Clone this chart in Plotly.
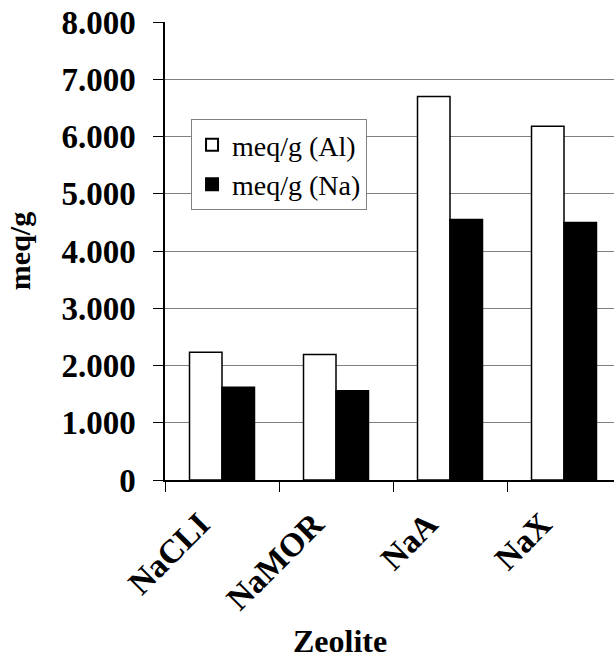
import plotly.graph_objects as go

categories = ["NaCLI", "NaMOR", "NaA", "NaX"]
al_values = [2.23, 2.19, 6.70, 6.18]
na_values = [1.62, 1.56, 4.55, 4.50]
y_tickvals = [0, 1, 2, 3, 4, 5, 6, 7, 8]
y_ticktext = ["0", "1.000", "2.000", "3.000", "4.000", "5.000", "6.000", "7.000", "8.000"]

FONT = "Liberation Serif, Times New Roman, serif"

fig = go.Figure()
fig.add_trace(go.Bar(x=categories, y=al_values, name="meq/g (Al)",
                     marker=dict(color="white", line=dict(color="black", width=1.5))))
fig.add_trace(go.Bar(x=categories, y=na_values, name="meq/g (Na)",
                     marker=dict(color="black", line=dict(color="black", width=1.5))))

fig.update_layout(
    width=614, height=660,
    margin=dict(l=165, r=0, t=22, b=180, pad=0),
    paper_bgcolor="white", plot_bgcolor="white",
    barmode="group", bargap=0.43, bargroupgap=0,
    font=dict(family=FONT, color="black"),
    showlegend=True,
    legend=dict(x=0.058, y=0.788, xanchor="left", yanchor="top",
                bgcolor="white", bordercolor="#808080", borderwidth=1,
                font=dict(family=FONT, size=28, color="black"),
                itemsizing="constant", tracegroupgap=0, itemwidth=30),
    xaxis=dict(
        range=[-0.5, 3.4386],
        showline=True, linecolor="black", linewidth=1.5,
        ticks="outside", ticklen=10, tickcolor="black", tickwidth=1.2,
        tickson="boundaries", tickangle=-45,
        tickfont=dict(family=FONT, size=33, color="black", weight="bold"),
        ticklabelstandoff=10, ticklabelshift=-22,
        showgrid=False,
    ),
    yaxis=dict(
        range=[0, 8], tickvals=y_tickvals, ticktext=y_ticktext,
        showline=True, linecolor="black", linewidth=1.5,
        ticks="outside", ticklen=10, tickcolor="black", tickwidth=1.2,
        tickfont=dict(family=FONT, size=33, color="black", weight="bold"),
        ticklabelstandoff=11,
        showgrid=True, gridcolor="#808080", gridwidth=1,
        zeroline=False,
        title=dict(text="<b>meq/g</b>", font=dict(family=FONT, size=30, color="black"), standoff=22),
    ),
    annotations=[dict(text="<b>Zeolite</b>", xref="paper", yref="paper",
                      x=0.389, y=-0.351, xanchor="center", yanchor="middle",
                      showarrow=False, font=dict(family=FONT, size=32, color="black"))],
)

fig.write_html("out.html")
